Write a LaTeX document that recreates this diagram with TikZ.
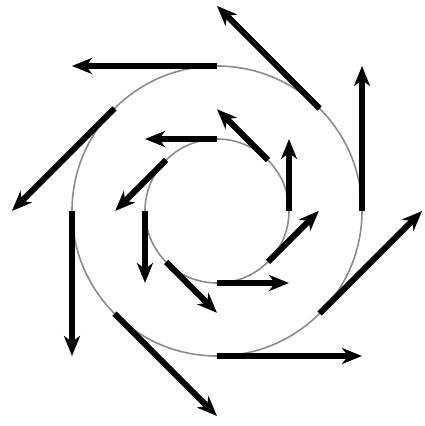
\documentclass[tikz,border=0pt]{standalone}
\usetikzlibrary{arrows.meta}
\begin{document}
\begin{tikzpicture}[x=1pt,y=1pt,
  vec/.style={line width=6pt,-{Stealth[length=20pt,width=16pt,inset=6pt]}},
  ring/.style={draw=black!45,line width=1.6pt}]
\useasboundingbox[fill=white] (0,0) rectangle (424,426);
\coordinate (O) at (217,215);
\draw[ring] (O) circle (145);
\draw[ring] (O) circle (72);
\foreach \a in {0,45,...,315}{
  \coordinate (so\a) at ([shift={(\a:145)}]O);
  \coordinate (to\a) at ([shift={(\a+90:145)}]so\a);
  \draw[vec] (so\a) -- (to\a);
  \coordinate (si\a) at ([shift={(\a:72)}]O);
  \coordinate (ti\a) at ([shift={(\a+90:72)}]si\a);
  \draw[vec] (si\a) -- (ti\a);
}
\end{tikzpicture}
\end{document}
